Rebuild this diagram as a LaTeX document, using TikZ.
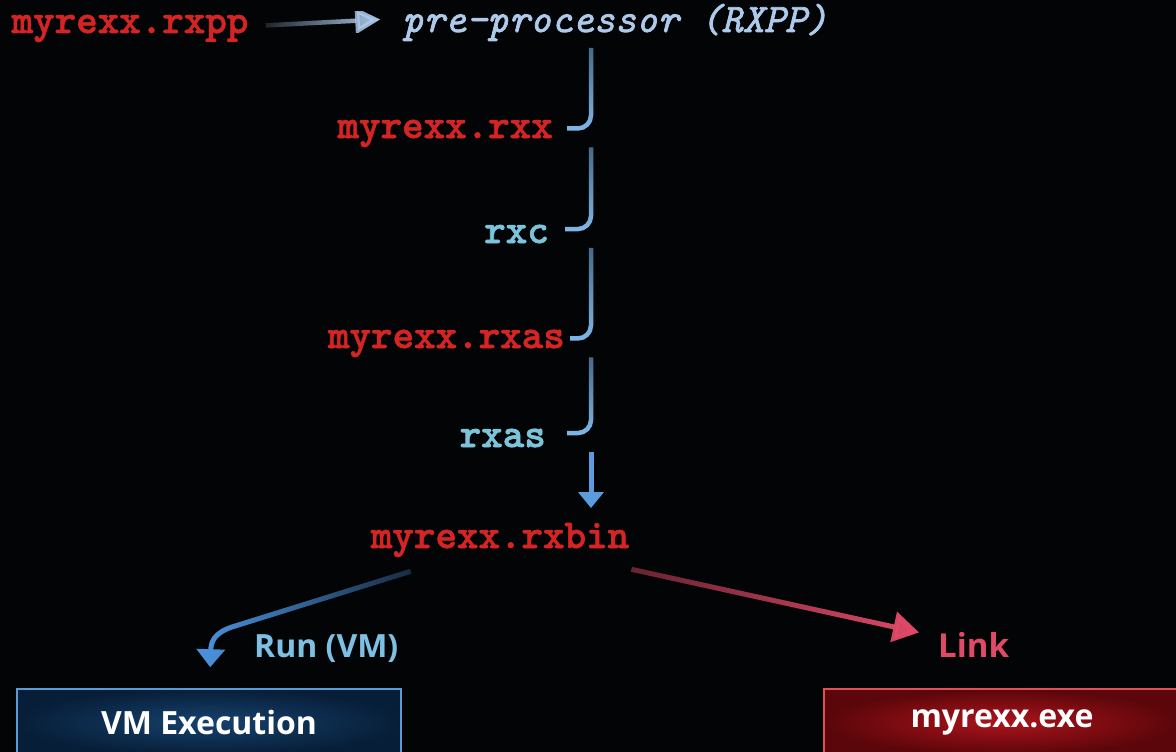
\documentclass[tikz,border=0pt]{standalone}
\usepackage{fontspec}
\setsansfont{Open Sans}
\newfontfamily\codefam{lmmonolt10-bold.otf}[FakeBold=1.6]
\newfontfamily\procfam{lmmono10-italic.otf}[FakeBold=1.8]
\usetikzlibrary{arrows.meta,fadings,calc}

\definecolor{bg}{HTML}{030406}
\definecolor{codered}{HTML}{D42424}
\definecolor{toolblue}{HTML}{7CC4DC}
\definecolor{procblue}{HTML}{ADCAEA}
\definecolor{flowblue}{HTML}{80B8EA}
\definecolor{runblue}{HTML}{4A90D8}
\definecolor{runtext}{HTML}{7EC0E4}
\definecolor{linkred}{HTML}{E04A68}
\definecolor{vmedge}{HTML}{5B9BD5}
\definecolor{exeedge}{HTML}{E0505A}

\tikzfading[name=rise right, left color=transparent!85, right color=transparent!0]
\tikzfading[name=warm right, left color=transparent!55, right color=transparent!0]
\tikzfading[name=rise left, left color=transparent!0, right color=transparent!72]
\tikzfading[name=rise down, top color=transparent!45, bottom color=transparent!0]

\newcommand\codetxt{\codefam\fontsize{41}{41}\selectfont}
\newcommand\proctxt{\procfam\fontsize{40.5}{40.5}\selectfont}

\begin{document}
\begin{tikzpicture}[x=1pt,y=-1pt,
  codefile/.style={font=\codetxt, text=codered, inner sep=0pt},
  tool/.style={font=\codetxt, text=toolblue, inner sep=0pt},
  hookline/.style={draw=flowblue, line width=4.5pt, rounded corners=13pt,
    path fading=rise down},
  outbox/.style={font=\sffamily\bfseries\fontsize{32}{32}\selectfont,
    text=white, minimum height=66pt, inner sep=0pt, line width=1.6pt},
  steplabel/.style={font=\sffamily\bfseries\fontsize{31}{31}\selectfont, inner sep=0pt}]

  % page and background
  \useasboundingbox (0,0) rectangle (1176,752);
  \fill[bg] (0,0) rectangle (1176,752);

  % source and pre-processor
  \node[codefile, anchor=base] (rxpp) at (130,33) {myrexx.rxpp};
  \node[font=\proctxt, text=procblue, inner sep=0pt, anchor=base] (pre) at (615,32) {pre-processor (RXPP)};

  % intermediate stages
  \node[codefile, anchor=base east] (rxx)  at (553,138) {myrexx.rxx};
  \node[tool,     anchor=base east] (rxc)  at (549,243) {rxc};
  \node[codefile, anchor=base east] (rxas) at (565,348) {myrexx.rxas};
  \node[tool,     anchor=base east] (asm)  at (546,447) {rxas};
  \node[codefile, anchor=base] (rxbin) at (500,548) {myrexx.rxbin};

  % spine of the pipeline
  \coordinate (spine) at (591,0);

  % outputs
  \node[outbox, minimum width=384pt, draw=vmedge,
        inner color={rgb,255:red,22;green,66;blue,110},
        outer color={rgb,255:red,7;green,30;blue,56}] (vm) at (209,722) {VM Execution};
  \node[outbox, minimum width=356pt, draw=exeedge,
        inner color={rgb,255:red,172;green,20;blue,28},
        outer color={rgb,255:red,90;green,6;blue,10}] (exe) at (1002,722) {myrexx.exe};

  \node[steplabel, text=runtext, anchor=base west, font=\sffamily\bfseries\fontsize{32}{32}\selectfont] (run) at (254,657) {Run (VM)};
  \node[steplabel, text=linkred, anchor=base west, font=\sffamily\bfseries\fontsize{33}{33}\selectfont] (link) at (938,657) {Link};

  % source -> pre-processor
  \draw[draw=procblue, line width=4.5pt, path fading=rise right,
        -{Triangle[length=25pt,width=26pt]}]
    ($(rxpp.east)+(17,-3)$) -- ($(pre.west)+(-22,-3)$);

  % hooks feeding each stage
  \draw[hookline] (spine |- 0,48) |- ($(rxx.east)+(14,-5)$);
  \draw[hookline] ($(spine |- rxx.east)+(0,14)$) |- ($(rxc.east)+(16,-5)$);
  \draw[hookline] ($(spine |- rxc.east)+(0,14)$) |- ($(rxas.east)+(5,-5)$);
  \draw[hookline] ($(spine |- rxas.east)+(0,14)$) |- ($(asm.east)+(21,-5)$);

  % assembler -> binary
  \draw[draw=runblue!70!flowblue, line width=5pt, -{Triangle[length=16pt,width=25pt]}]
    ($(spine |- asm.east)+(0,14)$) -- (spine |- 0,508);

  % binary -> run / link
  \draw[draw=runblue, line width=5pt, path fading=rise left,
        -{Triangle[length=18pt,width=28pt]}]
    ($(rxbin.south west)+(40,14)$) -- (232,627)
    .. controls (214,633) and (211,642) .. ($(vm.north west)+(194,-21)$);
  \draw[draw=linkred, line width=5pt, path fading=warm right,
        -{Triangle[length=26pt,width=30pt]}]
    ($(rxbin.south east)+(2,12)$) -- ($(link.west)+(-19,-12)$);
\end{tikzpicture}
\end{document}
